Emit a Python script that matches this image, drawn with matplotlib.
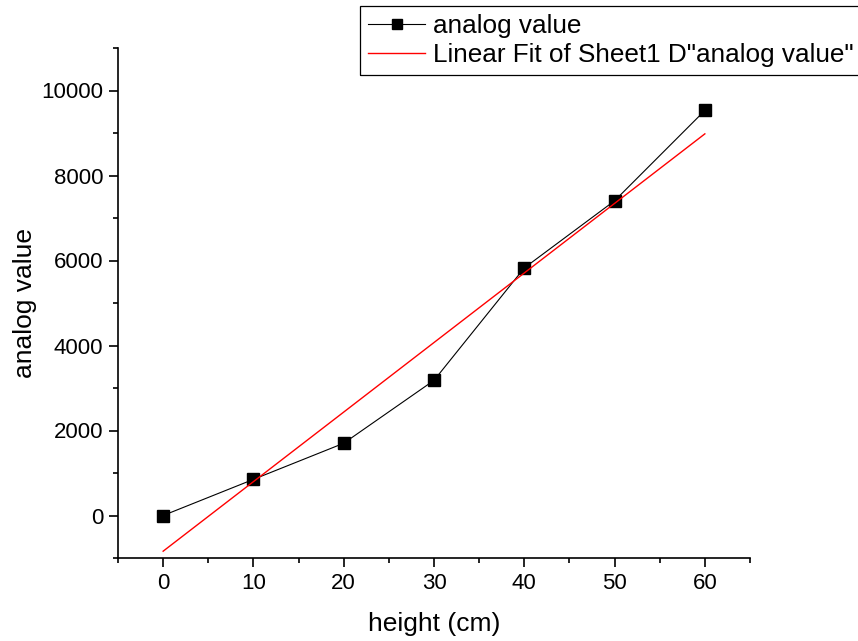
import numpy as np
import matplotlib
matplotlib.use("Agg")
import matplotlib.pyplot as plt
from matplotlib.ticker import MultipleLocator
from matplotlib.patches import Rectangle

plt.rcParams['font.family'] = ['Liberation Sans', 'DejaVu Sans']

height_cm = [0, 10, 20, 30, 40, 50, 60]
analog_value = [0, 850, 1700, 3180, 5825, 7405, 9530]

x = np.array(height_cm, dtype=float)
y = np.array(analog_value, dtype=float)
slope, intercept = np.polyfit(x, y, 1)
fit_y = slope * x + intercept

fig = plt.figure(figsize=(8.58, 6.41), dpi=100)
ax = fig.add_axes([118/858, 1-558/641, (750-118)/858, (558-48)/641])

ax.plot(x, y, color='black', lw=0.8, marker='s', markersize=9,
        markerfacecolor='black', markeredgecolor='black', label='analog value')
ax.plot(x, fit_y, color='red', lw=1.0, label='Linear Fit of Sheet1 D"analog value"')

ax.set_xlim(-5, 65)
ax.set_ylim(-1000, 11000)
ax.set_xticks([0, 10, 20, 30, 40, 50, 60])
ax.set_yticks([0, 2000, 4000, 6000, 8000, 10000])
ax.xaxis.set_minor_locator(MultipleLocator(5))
ax.yaxis.set_minor_locator(MultipleLocator(1000))

for s in ['top', 'right']:
    ax.spines[s].set_visible(False)
for s in ['left', 'bottom']:
    ax.spines[s].set_linewidth(1.2)
ax.tick_params(which='major', direction='out', length=6.5, width=1.2,
               labelsize=16, pad=4)
ax.tick_params(which='minor', direction='out', length=3.5, width=1.2)

ax.set_xlabel('height (cm)', fontsize=19, labelpad=13)
ax.set_ylabel('analog value', fontsize=19, labelpad=3.5)

leg = fig.legend(loc='upper left', bbox_to_anchor=(360/858, 1-6/641),
                 fontsize=18.8, frameon=False, borderpad=0.3,
                 handlelength=2.2, handletextpad=0.3, labelspacing=0.2,
                 borderaxespad=0)
leg.legend_handles[0].set_markersize(7)

# legend frame that runs past the right edge of the figure, as in the reference
fig.canvas.draw()
bb = leg.get_window_extent()
fig.add_artist(Rectangle((bb.x0, bb.y0), bb.width + 100, bb.height,
                         transform=None, fill=False, edgecolor='black',
                         linewidth=0.9))

fig.savefig('out.png', dpi=100)
